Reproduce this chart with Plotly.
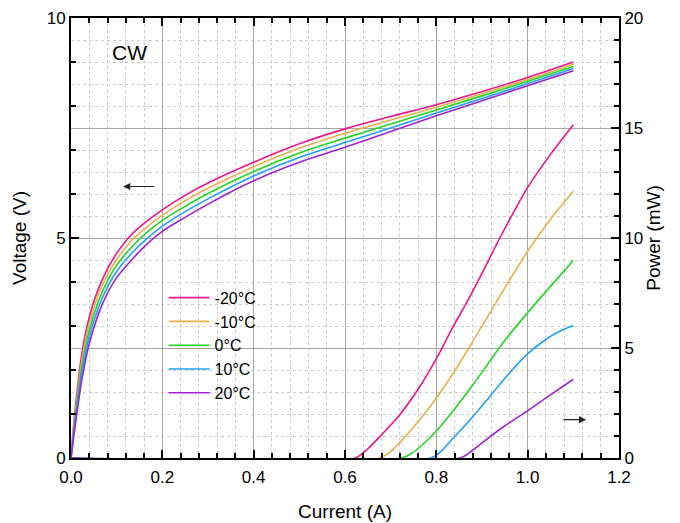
import plotly.graph_objects as go

# ---- data ----
temps = ["-20°C", "-10°C", "0°C", "10°C", "20°C"]
colors = ["#f0148c", "#e8b04a", "#22d622", "#1ea0ff", "#a020d8"]

current_v = [0, 0.01, 0.025, 0.04, 0.06, 0.08, 0.1, 0.13, 0.16, 0.2, 0.25, 0.3,
             0.4, 0.5, 0.6, 0.7, 0.8, 0.9, 1.0, 1.1]
volt_m20 = [0, 1.20, 2.45, 3.20, 3.85, 4.30, 4.65, 5.05, 5.33, 5.64, 5.97, 6.25,
            6.72, 7.14, 7.48, 7.76, 8.03, 8.33, 8.65, 9.00]
volt_m10 = [0, 1.10, 2.30, 3.05, 3.71, 4.16, 4.51, 4.91, 5.20, 5.52, 5.85, 6.13,
            6.62, 7.04, 7.38, 7.68, 7.97, 8.28, 8.60, 8.95]
volt_0 = [0, 1.00, 2.15, 2.90, 3.56, 4.03, 4.38, 4.76, 5.07, 5.40, 5.72, 6.01,
          6.51, 6.93, 7.27, 7.59, 7.91, 8.23, 8.56, 8.90]
volt_10 = [0, 0.90, 2.00, 2.75, 3.42, 3.89, 4.24, 4.62, 4.93, 5.27, 5.60, 5.89,
           6.41, 6.83, 7.17, 7.50, 7.84, 8.17, 8.51, 8.85]
volt_20 = [0, 0.80, 1.85, 2.60, 3.27, 3.75, 4.10, 4.47, 4.80, 5.15, 5.47, 5.77,
           6.30, 6.72, 7.06, 7.42, 7.78, 8.12, 8.46, 8.80]

cur_p_m20 = [0, 0.622, 0.65, 0.6765, 0.720, 0.764, 0.801, 0.837, 0.870, 0.905, 0.939, 0.970, 1.0, 1.05, 1.1]
pow_m20 = [0, 0, 0.42, 0.98, 1.97, 3.25, 4.55, 5.98, 7.2, 8.6, 10.0, 11.2, 12.3, 13.8, 15.15]
cur_p_m10 = [0, 0.676, 0.70, 0.720, 0.764, 0.801, 0.837, 0.874, 0.910, 0.958, 1.0, 1.05, 1.1]
pow_m10 = [0, 0, 0.3, 0.7, 1.75, 2.75, 3.85, 5.1, 6.35, 8.0, 9.4, 10.85, 12.12]
cur_p_0 = [0, 0.724, 0.745, 0.764, 0.801, 0.837, 0.881, 0.917, 0.954, 1.0, 1.05, 1.1]
pow_0 = [0, 0, 0.2, 0.5, 1.25, 2.15, 3.35, 4.4, 5.45, 6.6, 7.8, 8.98]
cur_p_10 = [0, 0.788, 0.81, 0.830, 0.881, 0.917, 0.954, 0.998, 1.042, 1.07, 1.1]
pow_10 = [0, 0, 0.3, 0.75, 1.9, 2.8, 3.72, 4.7, 5.42, 5.76, 6.02]
cur_p_20 = [0, 0.852, 0.87, 0.896, 0.947, 0.998, 1.049, 1.1]
pow_20 = [0, 0, 0.2, 0.62, 1.42, 2.12, 2.86, 3.58]

volts = [volt_m20, volt_m10, volt_0, volt_10, volt_20]
pcur = [cur_p_m20, cur_p_m10, cur_p_0, cur_p_10, cur_p_20]
pows = [pow_m20, pow_m10, pow_0, pow_10, pow_20]

FONT = "Liberation Sans, Arial, sans-serif"

fig = go.Figure()
for name, col, v in zip(temps, colors, volts):
    fig.add_trace(go.Scatter(x=current_v, y=v, mode="lines", name=name,
                             line=dict(color=col, width=1.6, shape="spline", smoothing=1.0),
                             yaxis="y"))
for name, col, ci, p in zip(temps, colors, pcur, pows):
    fig.add_trace(go.Scatter(x=ci, y=p, mode="lines", name=name, showlegend=False,
                             line=dict(color=col, width=1.6, shape="spline", smoothing=0.8),
                             yaxis="y2"))

major_grid = "#a6a6a6"
minor_grid = "#cccccc"

fig.update_layout(
    width=680, height=523,
    margin=dict(l=63, r=69, t=10, b=73),
    paper_bgcolor="white", plot_bgcolor="white",
    font=dict(family=FONT, size=17, color="black"),
    showlegend=True,
    legend=dict(x=0.169, y=0.403, xanchor="left", yanchor="top",
                bgcolor="rgba(0,0,0,0)", font=dict(size=16, family=FONT),
                tracegroupgap=0, itemwidth=41),
    xaxis=dict(range=[0, 1.2], dtick=0.2, tick0=0, tickformat=".1f",
               ticks="inside", ticklen=8, tickwidth=2, tickcolor="black",
               showline=True, linecolor="black", linewidth=2, mirror="ticks",
               showgrid=True, gridcolor=major_grid, gridwidth=1.3,
               zeroline=False, automargin=False, ticklabelstandoff=3,
               minor=dict(dtick=0.04, ticks="inside", ticklen=5, tickwidth=1.5,
                          tickcolor="black", showgrid=True, gridcolor=minor_grid,
                          griddash="dot", gridwidth=1),
               title=dict(text="Current (A)", font=dict(size=19), standoff=18),
               tickfont=dict(size=17)),
    yaxis=dict(range=[0, 10], dtick=5, tick0=0,
               ticks="inside", ticklen=8, tickwidth=2, tickcolor="black",
               showline=True, linecolor="black", linewidth=2,
               showgrid=False, zeroline=False, automargin=False,
               minor=dict(dtick=1, ticks="inside", ticklen=5, tickwidth=1.5,
                          tickcolor="black", showgrid=False),
               title=dict(text="Voltage (V)", font=dict(size=19), standoff=15),
               tickfont=dict(size=17)),
    yaxis2=dict(range=[0, 20], dtick=5, tick0=0, overlaying="y", side="right",
                ticks="inside", ticklen=8, tickwidth=2, tickcolor="black",
                showline=True, linecolor="black", linewidth=2,
                showgrid=True, gridcolor=major_grid, gridwidth=1.3, zeroline=False,
                automargin=False,
                minor=dict(dtick=1, ticks="inside", ticklen=5, tickwidth=1.5,
                           tickcolor="black", showgrid=True, gridcolor=minor_grid,
                           griddash="dot", gridwidth=1),
                title=dict(text="Power (mW)", font=dict(size=19), standoff=4),
                tickfont=dict(size=17)),
)

fig.add_annotation(x=0.129, y=9.21, xref="x", yref="y", text="CW", showarrow=False,
                   font=dict(size=21, family=FONT))
fig.add_annotation(x=0.114, y=6.17, ax=0.186, ay=6.17, xref="x", yref="y",
                   axref="x", ayref="y", text="", showarrow=True,
                   arrowhead=2, arrowsize=1.2, arrowwidth=1.2, arrowcolor="#222222")
fig.add_annotation(x=1.128, y=1.74, ax=1.075, ay=1.74, xref="x", yref="y2",
                   axref="x", ayref="y2", text="", showarrow=True,
                   arrowhead=2, arrowsize=1.2, arrowwidth=1.2, arrowcolor="#222222")

fig.write_html("out.html")
